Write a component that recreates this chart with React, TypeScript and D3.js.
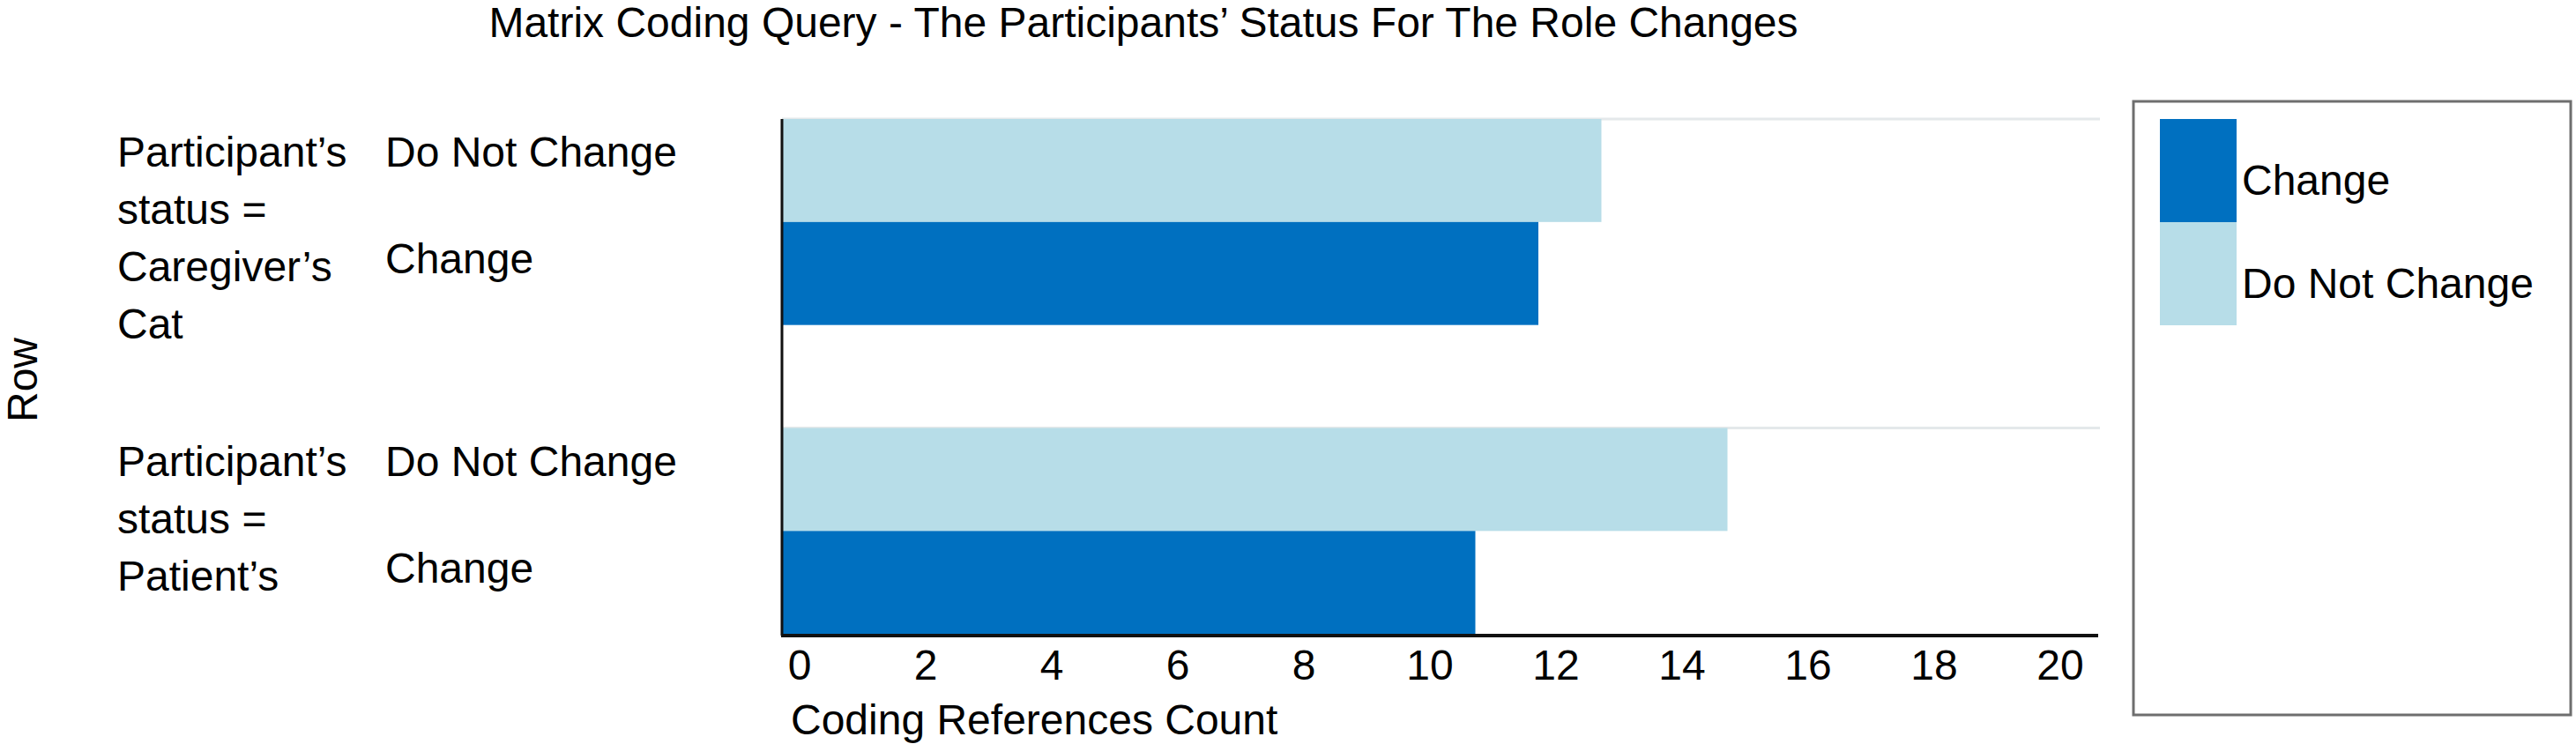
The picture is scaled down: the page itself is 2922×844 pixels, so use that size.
import React, { useEffect, useRef } from "react";
import * as d3 from "d3";

const title = "Matrix Coding Query - The Participants\u2019 Status For The Role Changes";
const groups = ["Caregiver", "Patient"];
const groupLabels = [
  ["Participant\u2019s", "status =", "Caregiver\u2019s", "Cat"],
  ["Participant\u2019s", "status =", "Patient\u2019s"],
];
const series = ["Do Not Change", "Change"];
const changeValues = [12, 11];
const doNotChangeValues = [13, 15];
const xTicks = [0, 2, 4, 6, 8, 10, 12, 14, 16, 18, 20];
const legendItems = ["Change", "Do Not Change"];
const colors: Record<string, string> = { Change: "#0070C0", "Do Not Change": "#B7DDE8" };

const FONT = "'Liberation Sans', Arial, Helvetica, sans-serif";

export default function App() {
  const ref = useRef<SVGSVGElement>(null);

  useEffect(() => {
    const svg = d3.select(ref.current).html(null);
    svg.attr("font-family", FONT).attr("font-size", 48);

    const x = d3.scaleLinear().domain([0, 20]).range([887, 2317]);
    const y = d3.scaleBand().domain(groups).range([135, 836]).padding(0);
    const yIn = d3.scaleBand().domain(series).range([0, (y.bandwidth() * 2) / 3]);

    // title
    svg.append("text").attr("x", 1297).attr("y", 42).attr("text-anchor", "middle").text(title);

    // row axis title
    svg
      .append("text")
      .attr("transform", "translate(42,431) rotate(-90)")
      .attr("text-anchor", "middle")
      .text("Row");

    // band lines
    svg
      .selectAll("line.band")
      .data(groups)
      .enter()
      .append("line")
      .attr("x1", x(0))
      .attr("x2", 2382)
      .attr("y1", (d) => y(d)!)
      .attr("y2", (d) => y(d)!)
      .attr("stroke", "#e4e8ea")
      .attr("stroke-width", 3);

    const rows = groups.map((g, i) => ({
      g,
      vals: [
        { s: "Do Not Change", v: doNotChangeValues[i] },
        { s: "Change", v: changeValues[i] },
      ],
    }));

    const gg = svg
      .selectAll("g.grp")
      .data(rows)
      .enter()
      .append("g")
      .attr("transform", (d) => `translate(0,${y(d.g)})`);

    gg.selectAll("rect")
      .data((d) => d.vals)
      .enter()
      .append("rect")
      .attr("x", x(0))
      .attr("y", (d) => yIn(d.s)!)
      .attr("width", (d) => x(d.v) - x(0))
      .attr("height", yIn.bandwidth())
      .attr("fill", (d) => colors[d.s]);

    // category labels
    gg.each(function (d, i) {
      const g = d3.select(this);
      groupLabels[i].forEach((t, j) => {
        g.append("text").attr("x", 133).attr("y", 54 + j * 65).text(t);
      });
      g.append("text").attr("x", 437).attr("y", 54).text("Do Not Change");
      g.append("text").attr("x", 437).attr("y", 175).text("Change");
    });

    // axes lines
    svg
      .append("line")
      .attr("x1", x(0))
      .attr("x2", x(0))
      .attr("y1", y(groups[0])!)
      .attr("y2", 721)
      .attr("stroke", "#111")
      .attr("stroke-width", 3);
    svg
      .append("line")
      .attr("x1", x(0) - 1)
      .attr("x2", 2380)
      .attr("y1", 721)
      .attr("y2", 721)
      .attr("stroke", "#111")
      .attr("stroke-width", 4);

    svg
      .selectAll("text.tick")
      .data(xTicks)
      .enter()
      .append("text")
      .attr("x", (d) => x(d) + 20)
      .attr("y", 771)
      .attr("text-anchor", "middle")
      .text((d) => d);

    svg.append("text").attr("x", 897).attr("y", 833).text("Coding References Count");

    // legend
    svg
      .append("rect")
      .attr("x", 2420)
      .attr("y", 115)
      .attr("width", 496)
      .attr("height", 696)
      .attr("fill", "none")
      .attr("stroke", "#6e6e6e")
      .attr("stroke-width", 3);

    const lg = svg
      .selectAll("g.leg")
      .data(legendItems)
      .enter()
      .append("g")
      .attr("transform", (d, i) => `translate(2450,${135 + i * 117})`);
    lg.append("rect").attr("width", 87).attr("height", 117).attr("fill", (d) => colors[d]);
    lg.append("text").attr("x", 93).attr("y", 86).text((d) => d);
  }, []);

  return (
    <svg
      ref={ref}
      width={2922}
      height={844}
      style={{ position: "absolute", left: 0, top: 0, display: "block", background: "#fff" }}
    />
  );
}
